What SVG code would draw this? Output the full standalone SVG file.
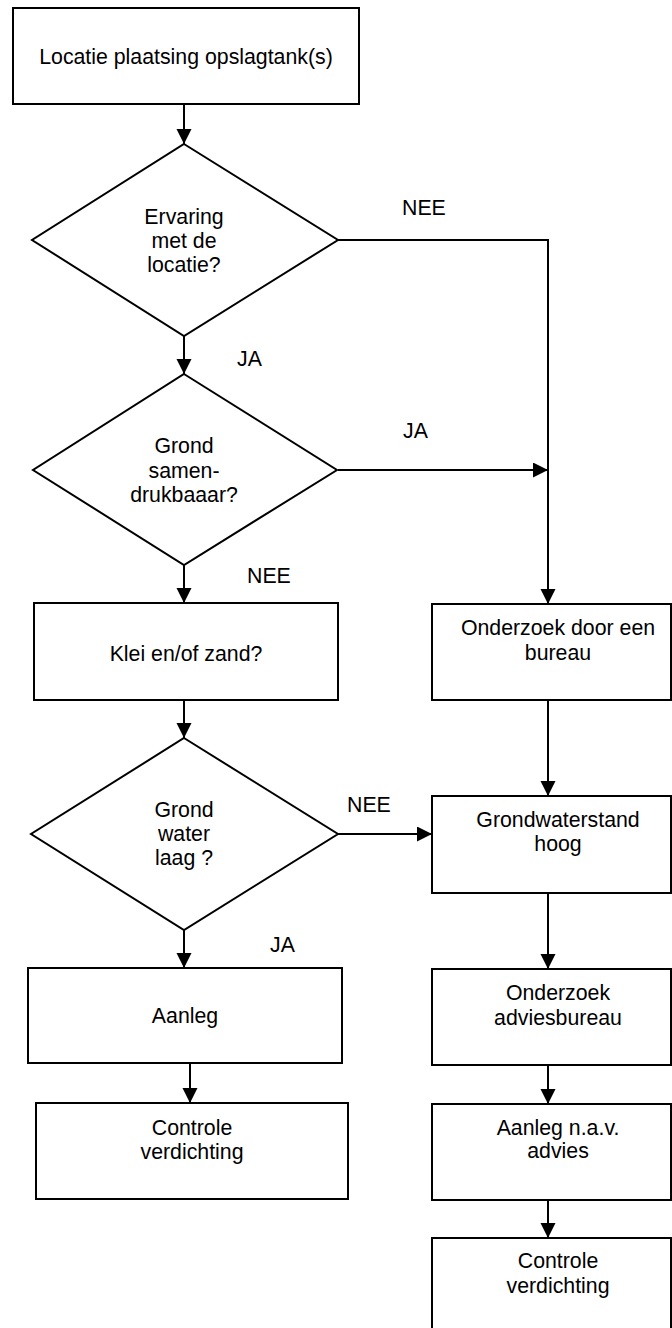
<svg xmlns="http://www.w3.org/2000/svg" width="672" height="1328" viewBox="0 0 672 1328">
<style>
.box{fill:#fff;stroke:#000;stroke-width:2}
.dia{fill:#fff;stroke:#000;stroke-width:2}
.con{fill:none;stroke:#000;stroke-width:2}
text{font-family:"Liberation Sans",Arial,sans-serif;font-size:21.3px;fill:#000}
.c{text-anchor:middle}
</style>
<defs>
<marker id="ah" markerUnits="userSpaceOnUse" markerWidth="16" markerHeight="16" refX="15" refY="7.5" orient="auto">
<path d="M0,0 L15,7.5 L0,15 Z" fill="#000"/>
</marker>
</defs>
<rect width="672" height="1328" fill="#fff"/>
<g id="connectors">
<path class="con" d="M184,104 V144" marker-end="url(#ah)"/>
<path class="con" d="M338,240 H548 V604" marker-end="url(#ah)"/>
<path class="con" d="M184,336 V374" marker-end="url(#ah)"/>
<path class="con" d="M338,470 H548" marker-end="url(#ah)"/>
<path class="con" d="M184,565 V603" marker-end="url(#ah)"/>
<path class="con" d="M184,700 V738" marker-end="url(#ah)"/>
<path class="con" d="M338,834 H432" marker-end="url(#ah)"/>
<path class="con" d="M184,930 V968" marker-end="url(#ah)"/>
<path class="con" d="M190,1063 V1103" marker-end="url(#ah)"/>
<path class="con" d="M548,700 V796" marker-end="url(#ah)"/>
<path class="con" d="M548,893 V969" marker-end="url(#ah)"/>
<path class="con" d="M548,1065 V1104" marker-end="url(#ah)"/>
<path class="con" d="M548,1200 V1238" marker-end="url(#ah)"/>
<text x="402" y="215">NEE</text>
<text x="237" y="366">JA</text>
<text x="403" y="438">JA</text>
<text x="247" y="583">NEE</text>
<text x="347" y="812">NEE</text>
<text x="270" y="952">JA</text>
</g>
<g id="n-start">
<rect class="box" x="13" y="8" width="346" height="96"/>
<text class="c" x="186" y="64">Locatie plaatsing opslagtank(s)</text>
</g>
<g id="n-ervaring">
<polygon class="dia" points="184,144 338,240 184,336 32,240"/>
<text class="c" x="184" y="224">Ervaring</text>
<text class="c" x="184" y="248">met de</text>
<text class="c" x="184" y="272">locatie?</text>
</g>
<g id="n-samendrukbaar">
<polygon class="dia" points="184,374 337,470 184,565 33,470"/>
<text class="c" x="184" y="453">Grond</text>
<text class="c" x="184" y="478">samen-</text>
<text class="c" x="184" y="502">drukbaaar?</text>
</g>
<g id="n-klei">
<rect class="box" x="34" y="603" width="304" height="97"/>
<text class="c" x="186" y="661">Klei en/of zand?</text>
</g>
<g id="n-grondwater">
<polygon class="dia" points="184,738 338,834 184,930 31,834"/>
<text class="c" x="184" y="817">Grond</text>
<text class="c" x="184" y="841">water</text>
<text class="c" x="184" y="865">laag ?</text>
</g>
<g id="n-aanleg">
<rect class="box" x="28" y="968" width="314" height="95"/>
<text class="c" x="185" y="1023">Aanleg</text>
</g>
<g id="n-controle-links">
<rect class="box" x="36" y="1103" width="312" height="96"/>
<text class="c" x="192" y="1135">Controle</text>
<text class="c" x="192" y="1159">verdichting</text>
</g>
<g id="n-onderzoek-bureau">
<rect class="box" x="432" y="604" width="239" height="96"/>
<text class="c" x="558" y="635">Onderzoek door een</text>
<text class="c" x="558" y="660">bureau</text>
</g>
<g id="n-grondwaterstand">
<rect class="box" x="432" y="796" width="239" height="97"/>
<text class="c" x="558" y="827">Grondwaterstand</text>
<text class="c" x="558" y="851">hoog</text>
</g>
<g id="n-onderzoek-advies">
<rect class="box" x="432" y="969" width="239" height="96"/>
<text class="c" x="558" y="1000">Onderzoek</text>
<text class="c" x="558" y="1025">adviesbureau</text>
</g>
<g id="n-aanleg-advies">
<rect class="box" x="432" y="1104" width="239" height="96"/>
<text class="c" x="558" y="1135">Aanleg n.a.v.</text>
<text class="c" x="558" y="1158">advies</text>
</g>
<g id="n-controle-rechts">
<rect class="box" x="432" y="1238" width="239" height="110"/>
<text class="c" x="558" y="1268">Controle</text>
<text class="c" x="558" y="1293">verdichting</text>
</g>
</svg>
